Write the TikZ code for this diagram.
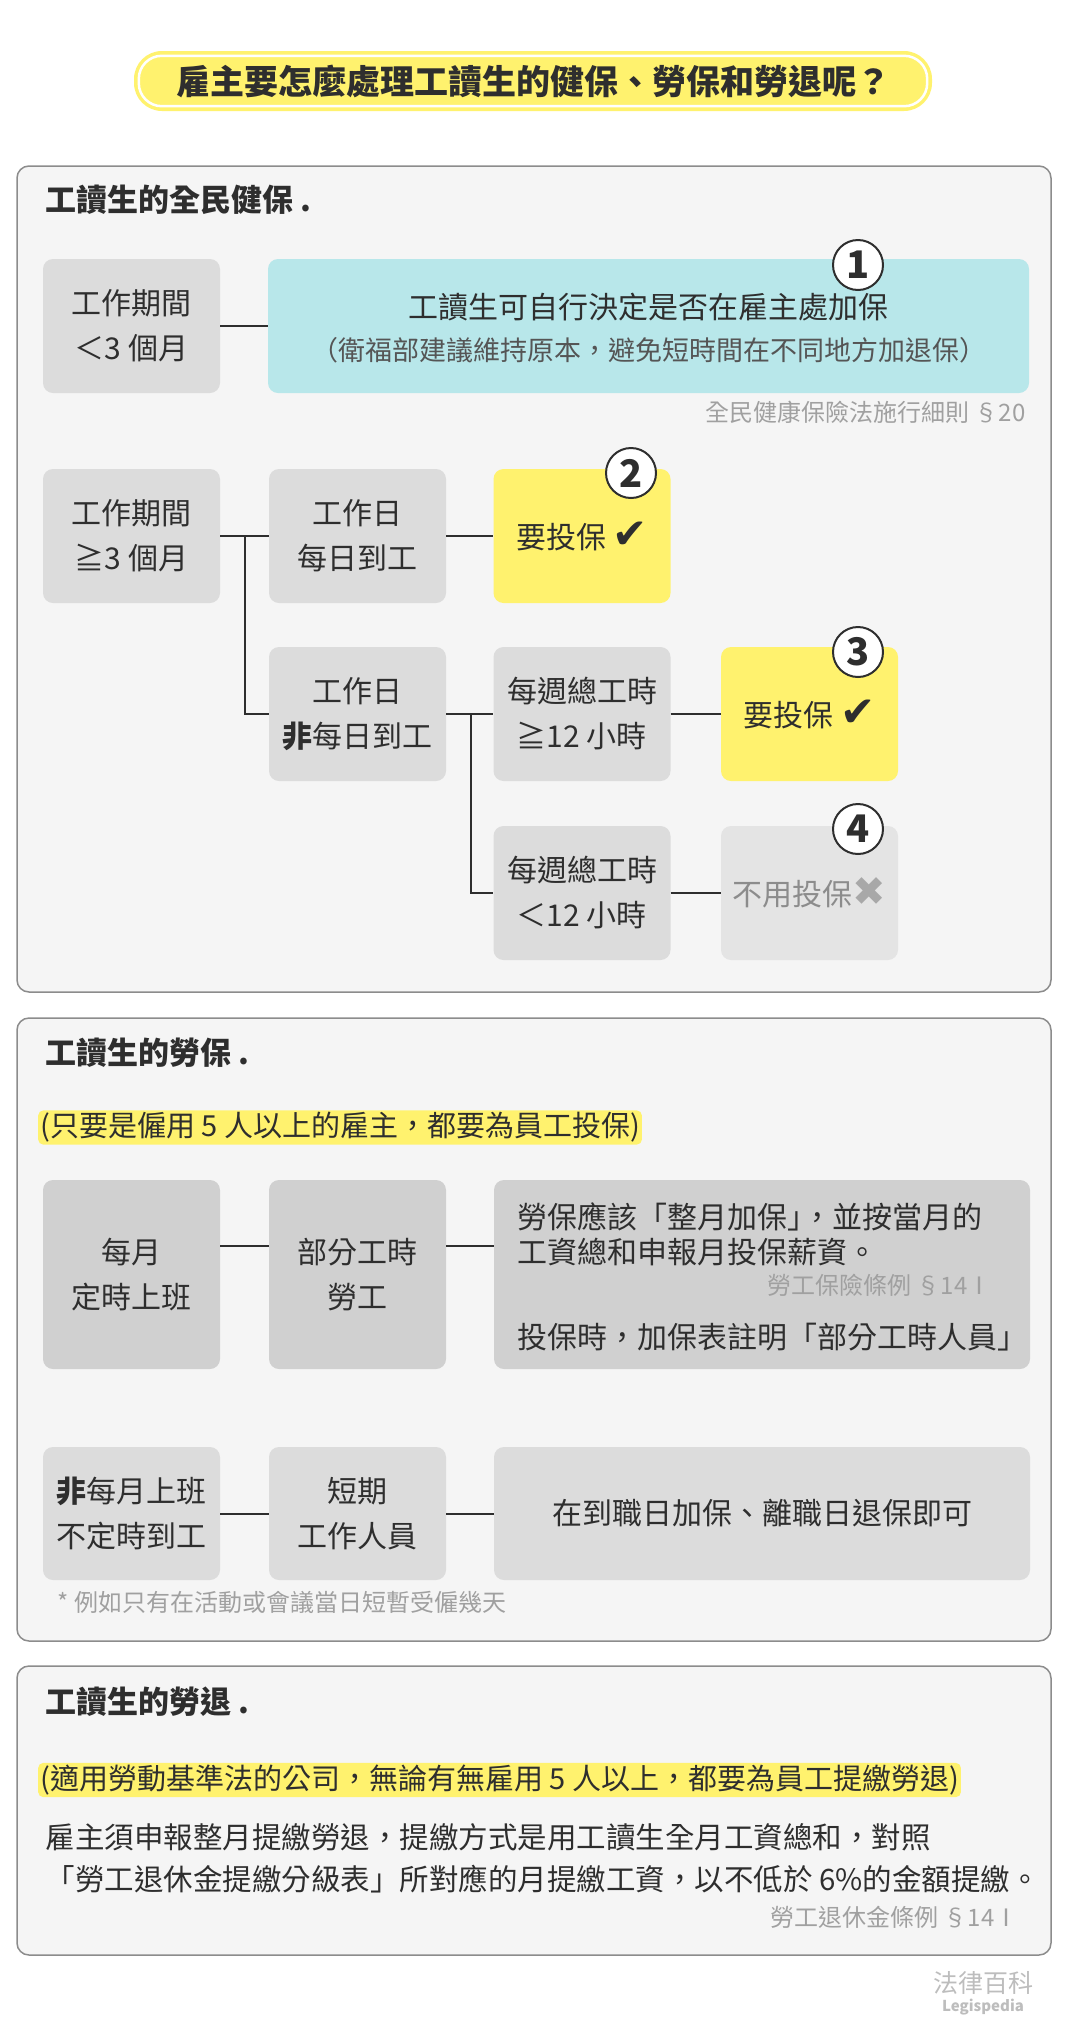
\documentclass[tikz,border=0pt]{standalone}
\usepackage{fontspec}
\setmainfont{Noto Sans CJK TC}
\newfontfamily\symfont{DejaVu Sans}

\definecolor{ink}{HTML}{2E2E2E}
\definecolor{hiyellow}{HTML}{FFF26E}
\definecolor{cyanbox}{HTML}{B8E7EA}
\definecolor{boxgray}{HTML}{DCDCDC}
\definecolor{boxdark}{HTML}{D0D0D0}
\definecolor{boxlight}{HTML}{E4E4E4}
\definecolor{panelbg}{HTML}{F5F5F5}
\definecolor{panelline}{HTML}{8C8C8C}
\definecolor{subgray}{HTML}{555555}
\definecolor{refgray}{HTML}{A0A0A0}
\definecolor{nogray}{HTML}{8C8C8C}
\definecolor{crossgray}{HTML}{A8A8A8}
\definecolor{logogray}{HTML}{BDBDBD}

\newcommand{\checkmk}{{\symfont\fontsize{42}{42}\selectfont ✔}}
\newcommand{\crossmk}{{\symfont\fontsize{40}{40}\selectfont\color{crossgray}✖}}

\begin{document}
\begin{tikzpicture}[x=1pt,y=-1pt,
    every node/.style={text=ink},
    box/.style={rounded corners=10pt, fill=boxgray, minimum width=177pt, minimum height=134pt,
      inner sep=0pt, align=center, font=\fontsize{30}{45}\selectfont},
    yesbox/.style={box, fill=hiyellow},
    nobox/.style={box, fill=boxlight, text=nogray},
    num/.style={circle, draw=ink, line width=2pt, fill=white, minimum size=50pt, inner sep=0pt,
      font=\fontsize{38}{38}\selectfont\bfseries},
    link/.style={draw=ink, line width=2pt},
    panel/.style={fill=panelbg, draw=panelline, line width=1.5pt, rounded corners=12pt},
    head/.style={anchor=west, font=\fontsize{31}{31}\selectfont\bfseries},
    hilite/.style={anchor=west, fill=hiyellow, rounded corners=5pt, inner sep=2pt,
      font=\fontsize{29}{29}\selectfont},
    line/.style={anchor=west, font=\fontsize{30}{30}\selectfont},
    note/.style={text=refgray, font=\fontsize{24}{24}\selectfont}]
    \useasboundingbox (0,0) rectangle (1065,2030);
    \fill[white] (0,0) rectangle (1065,2030);

    % Title
    \node[fill=hiyellow, rounded corners=28pt, minimum width=798pt, minimum height=60pt,
      font=\fontsize{34}{34}\selectfont\bfseries] (title) at (533,81)
      {雇主要怎麼處理工讀生的健保、勞保和勞退呢？};
    \draw[white, line width=2.5pt, rounded corners=23pt]
      ([shift={(5pt,-5pt)}]title.north west) rectangle ([shift={(-5pt,5pt)}]title.south east);

    % National health insurance
    \draw[panel] (17,166) rectangle (1051,992);
    \node[head] (nhi) at (42,200) {工讀生的全民健保 .};
    \node[box] (short) at (131.5,326) {工作期間\\＜3 個月};
    \node[box, fill=cyanbox, minimum width=761pt] (self) at (648.5,326) {};
    \node[font=\fontsize{30}{30}\selectfont] (selfa) at (648.5,307) {工讀生可自行決定是否在雇主處加保};
    \node[font=\fontsize{27}{27}\selectfont, text=subgray] (selfb) at (648.5,350)
      {（衛福部建議維持原本，避免短時間在不同地方加退保）};
    \node[note, anchor=east] (ref1) at (1029,412) {全民健康保險法施行細則 §20};
    \draw[link] (short) -- (self);

    \node[box] (long) at (131.5,536) {工作期間\\≧3 個月};
    \node[box] (daily) at (357.5,536) {工作日\\每日到工};
    \node[box] (notdaily) at (357.5,714) {工作日\\{\bfseries 非}每日到工};
    \node[yesbox] (yes1) at (582,536) {要投保 \checkmk};
    \node[box] (over) at (582,714) {每週總工時\\≧12 小時};
    \node[box] (under) at (582,893) {每週總工時\\＜12 小時};
    \node[yesbox] (yes2) at (809.5,714) {要投保 \checkmk};
    \node[nobox] (no) at (809.5,893) {不用投保\crossmk};

    \coordinate (fork1) at (245,536);
    \coordinate (fork2) at (471,714);
    \draw[link] (long) -- (daily);
    \draw[link] (fork1) |- (notdaily.west);
    \draw[link] (daily) -- (yes1);
    \draw[link] (notdaily) -- (over);
    \draw[link] (fork2) |- (under.west);
    \draw[link] (over) -- (yes2);
    \draw[link] (under) -- (no);

    \node[num] (n1) at (858,265) {1};
    \node[num] (n2) at (631,473) {2};
    \node[num] (n3) at (858,652) {3};
    \node[num] (n4) at (858,829) {4};

    % Labour insurance
    \draw[panel] (17,1018) rectangle (1051,1641);
    \node[head] (li) at (42,1053) {工讀生的勞保 .};
    \node[hilite] (linote) at (38,1127.5) {(只要是僱用 5 人以上的雇主，都要為員工投保)};
    \node[box, fill=boxdark, minimum height=189pt] (monthly) at (131.5,1274.5) {每月\\定時上班};
    \node[box, fill=boxdark, minimum height=189pt] (parttime) at (357.5,1274.5) {部分工時\\勞工};
    \node[box, fill=boxdark, minimum height=189pt, minimum width=536pt] (fullmonth) at (762,1274.5) {};
    \node[line] (fm1) at (514,1217) {勞保應該「整月加保」\kern-0.5em，並按當月的};
    \node[line] (fm2) at (514,1252) {工資總和申報月投保薪資。};
    \node[note, anchor=east] (ref2) at (995,1285) {勞工保險條例 §14Ⅰ};
    \node[line] (fm3) at (514,1337) {投保時，加保表註明「部分工時人員」};
    \draw[link] ([yshift=28.5pt]monthly.east) -- ([yshift=28.5pt]parttime.west);
    \draw[link] ([yshift=28.5pt]parttime.east) -- ([yshift=28.5pt]fullmonth.west);

    \node[box, minimum height=133pt] (irregular) at (131.5,1513.5) {{\bfseries 非}每月上班\\不定時到工};
    \node[box, minimum height=133pt] (temp) at (357.5,1513.5) {短期\\工作人員};
    \node[box, minimum height=133pt, minimum width=536pt] (inout) at (762,1513.5) {在到職日加保、離職日退保即可};
    \draw[link] (irregular) -- (temp);
    \draw[link] (temp) -- (inout);
    \node[note, anchor=west] (foot) at (54,1602) {* 例如只有在活動或會議當日短暫受僱幾天};

    % Labour pension
    \draw[panel] (17,1666) rectangle (1051,1955);
    \node[head] (lp) at (42,1702) {工讀生的勞退 .};
    \node[hilite] (lpnote) at (38,1780) {(適用勞動基準法的公司，無論有無雇用 5 人以上，都要為員工提繳勞退)};
    \node[line, align=left, font=\fontsize{29.5}{42}\selectfont] (lpbody) at (42,1858)
      {雇主須申報整月提繳勞退，提繳方式是用工讀生全月工資總和，對照\\「勞工退休金提繳分級表」所對應的月提繳工資，以不低於 6\%的金額提繳。};
    \node[note, anchor=east] (ref3) at (1022,1917) {勞工退休金條例 §14Ⅰ};

    % Logo
    \node[text=logogray, font=\fontsize{25}{25}\selectfont] (logo) at (983,1983) {法律百科};
    \node[text=logogray, font=\fontsize{15}{15}\selectfont\bfseries] (logosub) at (983,2007) {Legispedia};
\end{tikzpicture}
\end{document}
